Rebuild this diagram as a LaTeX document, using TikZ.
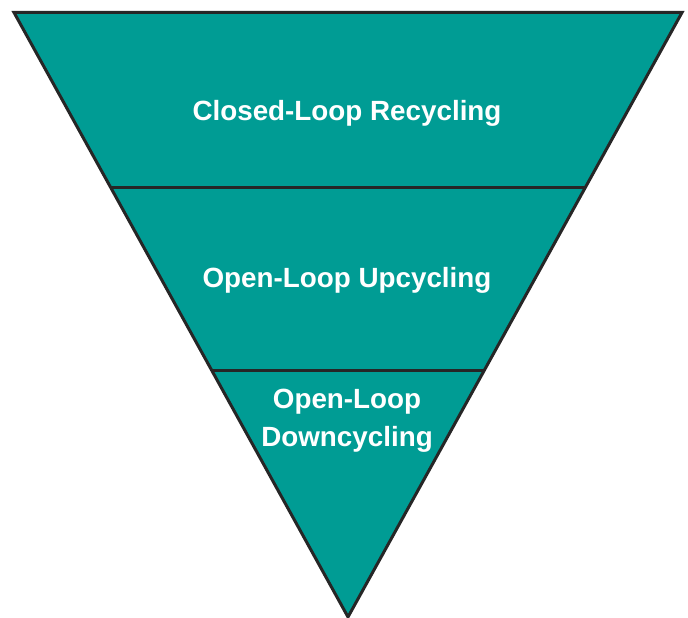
\documentclass[tikz,border=0pt]{standalone}
\usepackage{fontspec}
\setmainfont{Liberation Sans}
\usepackage{xcolor}
\usepackage{tikz}
\usetikzlibrary{calc}
\definecolor{loopteal}{RGB}{0,156,148}
\tikzstyle{tier}=[fill=loopteal,draw=black!85,line width=3pt,line join=miter]
\tikzstyle{cut} =[draw=black!85,line width=3pt]
\tikzstyle{lbl} =[text=white,font=\fontsize{27.8}{38}\selectfont\bfseries,align=center,inner sep=0pt,anchor=base]

\begin{document}
\begin{tikzpicture}[x=1pt,y=-1pt]
	\useasboundingbox (0,0) rectangle (688,618);
	\coordinate (tl) at (14,12.5);
	\coordinate (tr) at (682,12.5);
	\coordinate (bt) at (348,617);
	\path[tier] (tl) -- (tr) -- (bt) -- cycle;
	% tier boundaries
	\coordinate (l1) at ($(tl)!0.2903!(bt)$);
	\coordinate (r1) at ($(tr)!0.2903!(bt)$);
	\coordinate (l2) at ($(tl)!0.5914!(bt)$);
	\coordinate (r2) at ($(tr)!0.5914!(bt)$);
	\draw[cut] (l1) -- (r1);
	\draw[cut] (l2) -- (r2);
	\node[lbl] (closed) at (347,120) {Closed-Loop Recycling};
	\node[lbl] (upcyc)  at (347,287) {Open-Loop Upcycling};
	% base of a two-line node sits on its last line
	\node[lbl] (downcyc) at (347,446) {Open-Loop\\Downcycling};
\end{tikzpicture}
\end{document}
